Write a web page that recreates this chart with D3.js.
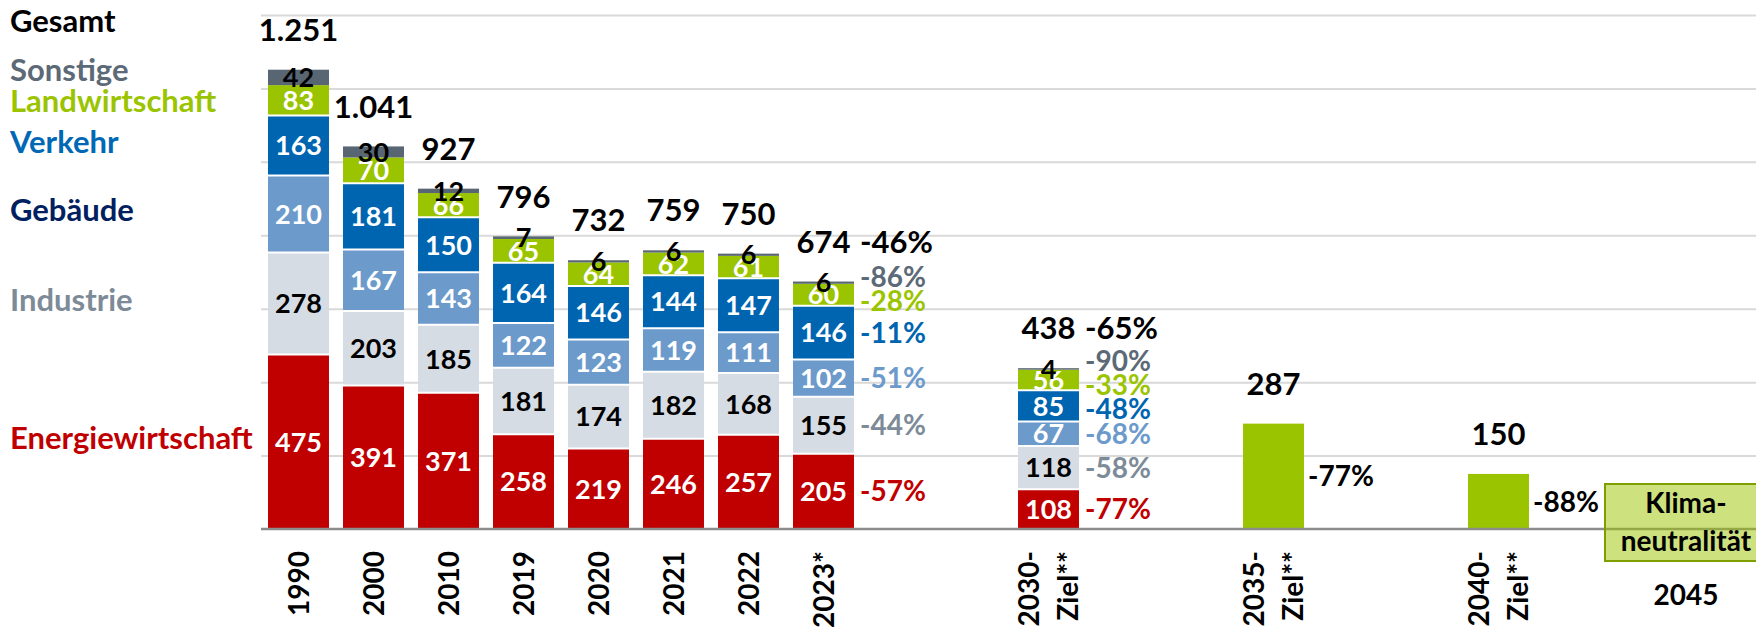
<!DOCTYPE html>
<html>
<head>
<meta charset="utf-8">
<script src="https://cdn.jsdelivr.net/npm/d3@7"></script>
<style>
	body { margin: 0; background: #fff; }
	svg text { font-family: Lato, "Open Sans", sans-serif; font-weight: 700; }
</style>
</head>
<body>
<div id="chart"></div>
<script>

// Treibhausgasemissionen nach Sektoren (Mio. t CO2-Äq.)
var sectors = ["Energiewirtschaft", "Industrie", "Gebäude", "Verkehr", "Landwirtschaft", "Sonstige"];
var years = ["1990", "2000", "2010", "2019", "2020", "2021", "2022", "2023*", "2030-Ziel**"];

var energie        = [475, 391, 371, 258, 219, 246, 257, 205, 108];
var industrie      = [278, 203, 185, 181, 174, 182, 168, 155, 118];
var gebaeude       = [210, 167, 143, 122, 123, 119, 111, 102, 67];
var verkehr        = [163, 181, 150, 164, 146, 144, 147, 146, 85];
var landwirtschaft = [83, 70, 66, 65, 64, 62, 61, 60, 56];
var sonstige       = [42, 30, 12, 7, 6, 6, 6, 6, 4];
var totals         = [1251, 1041, 927, 796, 732, 759, 750, 674, 438];

// Ziele ohne Sektoraufteilung
var targetYears  = ["2035-Ziel**", "2040-Ziel**"];
var targetValues = [287, 150];
var targetChange = ["-77%", "-88%"];

// Veränderung gegenüber 1990
var change2023  = ["-57%", "-44%", "-51%", "-11%", "-28%", "-86%"];
var change2030  = ["-77%", "-58%", "-68%", "-48%", "-33%", "-90%"];
var totalChange = ["-46%", "-65%"];

var yTicks = [200, 400, 600, 800, 1000, 1200, 1400];
var neutralYear = "2045";
var neutralText = ["Klima-", "neutralität"];

// colours
var fillColors  = ["#c00000", "#d6dce4", "#6c9acb", "#0065b0", "#9bc400", "#586572"];
var legendColors = ["#c00000", "#7d8b98", "#002060", "#0068b4", "#9bc400", "#5c6976"];
var valueColors = ["#fff", "#000", "#fff", "#fff", "#fff", "#000"];
var changeColors = ["#c00000", "#7d8b98", "#6c9acb", "#0065b0", "#9bc400", "#5c6976"];
var targetColor = "#9bc400";

var width = 1756, height = 631;

var svg = d3.select("#chart").append("svg")
	.attr("width", width)
	.attr("height", height);

// slots on the x axis, blanks keep the gaps between the target years
var slots = years.slice(0, 8).concat(["_a", "_b", years[8], "_c", "_d", targetYears[0], "_e", "_f", targetYears[1], "_g", neutralYear]);

var x = d3.scaleBand()
	.domain(slots)
	.range([261, 261 + slots.length * 75])
	.paddingInner(0.187)
	.paddingOuter(0.0935);

var y = d3.scaleLinear().domain([0, 1400]).range([529, 15]);

function cx(d) { return x(d) + x.bandwidth() / 2; }

//gridlines
var grid = svg.append("g")
	.attr("transform", "translate(261,0)")
	.call(d3.axisLeft(y).tickValues(yTicks).tickSize(-(width - 261)).tickFormat(""));
grid.select(".domain").remove();
grid.selectAll(".tick line").attr("stroke", "#d9d9d9").attr("stroke-width", 2);

var rows = years.map(function(yr, i) {
	return {
		year: yr,
		"Energiewirtschaft": energie[i],
		"Industrie": industrie[i],
		"Gebäude": gebaeude[i],
		"Verkehr": verkehr[i],
		"Landwirtschaft": landwirtschaft[i],
		"Sonstige": sonstige[i]
	};
});

var series = d3.stack().keys(sectors)(rows);

var layers = svg.selectAll(".layer")
	.data(series)
	.enter().append("g")
	.attr("class", "layer")
	.attr("fill", function(d, i) { return fillColors[i]; });

layers.selectAll("rect")
	.data(function(d) { return d; })
	.enter().append("rect")
	.attr("x", function(d) { return x(d.data.year); })
	.attr("width", x.bandwidth())
	.attr("y", function(d) { return y(d[1]); })
	.attr("height", function(d) { return y(d[0]) - y(d[1]); });

// white separators between segments
series.slice(1).forEach(function(s) {
	svg.selectAll(null)
		.data(s)
		.enter().append("line")
		.attr("x1", function(d) { return x(d.data.year); })
		.attr("x2", function(d) { return x(d.data.year) + x.bandwidth(); })
		.attr("y1", function(d) { return y(d[0]); })
		.attr("y2", function(d) { return y(d[0]); })
		.attr("stroke", s.key == "Sonstige" ? "none" : "#fff")
		.attr("stroke-width", 2);
});

// target bars
svg.selectAll(".target")
	.data(targetValues)
	.enter().append("rect")
	.attr("class", "target")
	.attr("x", function(d, i) { return x(targetYears[i]); })
	.attr("width", x.bandwidth())
	.attr("y", function(d) { return y(d); })
	.attr("height", function(d) { return y(0) - y(d); })
	.attr("fill", targetColor);

// baseline
svg.append("line")
	.attr("x1", 261).attr("x2", width)
	.attr("y1", y(0)).attr("y2", y(0))
	.attr("stroke", "#8c8c8c")
	.attr("stroke-width", 2.5);

// segment values
layers.each(function(s, si) {
	d3.select(this).selectAll("text")
		.data(s)
		.enter().append("text")
		.attr("x", function(d) { return cx(d.data.year); })
		.attr("y", function(d) { return (y(d[0]) + y(d[1])) / 2; })
		.attr("dy", "0.36em")
		.attr("text-anchor", "middle")
		.attr("font-size", 27)
		.attr("fill", valueColors[si])
		.text(function(d) { return d[1] - d[0]; });
});

var de = d3.formatLocale({ decimal: ",", thousands: ".", grouping: [3], currency: ["", " €"] });
var fmt = de.format(",d");

// totals
svg.selectAll(".total")
	.data(totals)
	.enter().append("text")
	.attr("class", "total")
	.attr("x", function(d, i) { return cx(years[i]); })
	.attr("y", function(d) { return y(d) - 29; })
	.attr("text-anchor", "middle")
	.attr("font-size", 31)
	.attr("fill", "#000")
	.text(function(d) { return fmt(d); });

svg.selectAll(".tlabel")
	.data(targetValues)
	.enter().append("text")
	.attr("x", function(d, i) { return cx(targetYears[i]); })
	.attr("y", function(d) { return y(d) - 29; })
	.attr("text-anchor", "middle")
	.attr("font-size", 31)
	.text(function(d) { return d; });

svg.selectAll(".tchange")
	.data(targetChange)
	.enter().append("text")
	.attr("x", function(d, i) { return x(targetYears[i]) + x.bandwidth() + 4; })
	.attr("y", function(d, i) { return (y(0) + y(targetValues[i])) / 2; })
	.attr("dy", "0.36em")
	.attr("font-size", 28)
	.text(function(d) { return d; });

// push labels apart so they do not overlap
function relax(items, gap) {
	for (var k = 0; k < 60; k++) {
		for (var i = 1; i < items.length; i++) {
			var dist = items[i - 1].y - items[i].y;
			if (dist < gap) {
				var m = (gap - dist) / 2;
				items[i - 1].y += m;
				items[i].y -= m;
			}
		}
	}
	return items;
}

// change labels next to 2023 and 2030
[["2023*", change2023, totalChange[0]], ["2030-Ziel**", change2030, totalChange[1]]].forEach(function(c) {
	var col = years.indexOf(c[0]);
	var items = series.map(function(s, si) {
		var d = s[col];
		return { y: (y(d[0]) + y(d[1])) / 2, text: c[1][si], color: changeColors[si] };
	});
	relax(items, 24);
	var x0 = x(c[0]) + x.bandwidth() + 6;
	svg.selectAll(null)
		.data(items)
		.enter().append("text")
		.attr("x", x0)
		.attr("y", function(d) { return d.y; })
		.attr("dy", "0.36em")
		.attr("font-size", 28)
		.attr("fill", function(d) { return d.color; })
		.text(function(d) { return d.text; });
	svg.append("text")
		.attr("x", x0)
		.attr("y", y(totals[col]) - 29)
		.attr("font-size", 31)
		.text(c[2]);
});

// legend on the left, aligned to the 1990 segments
var legendItems = series.map(function(s, si) {
	return { y: (y(s[0][0]) + y(s[0][1])) / 2 - 4, text: s.key, color: legendColors[si] };
});
relax(legendItems, 31);
legendItems.push({ y: 21, text: "Gesamt", color: "#000" });

svg.selectAll(".legend")
	.data(legendItems)
	.enter().append("text")
	.attr("class", "legend")
	.attr("x", 10)
	.attr("y", function(d) { return d.y; })
	.attr("dy", "0.36em")
	.attr("font-size", 31)
	.attr("fill", function(d) { return d.color; })
	.text(function(d) { return d.text; });

// x axis labels, rotated
var tickYears = years.concat(targetYears);
tickYears.forEach(function(t) {
	var lines = t.indexOf("-") > 0 ? [t.split("-")[0] + "-", t.split("-")[1]] : [t];
	var g = svg.append("g")
		.attr("transform", "translate(" + cx(t) + ",551) rotate(-90)");
	lines.forEach(function(l, li) {
		g.append("text")
			.attr("x", 0)
			.attr("y", (li - (lines.length - 1) / 2) * 39)
			.attr("dy", "0.36em")
			.attr("text-anchor", "end")
			.attr("font-size", 28)
			.text(l);
	});
});

// Klimaneutralität 2045 (sits half a slot to the right of its band)
var nx = cx(neutralYear) + x.step() / 2;
svg.append("rect")
	.attr("x", nx - x.step() * 1.08)
	.attr("y", y(0) - 45)
	.attr("width", x.step() * 2.16)
	.attr("height", 77)
	.attr("fill", targetColor)
	.attr("fill-opacity", 0.5)
	.attr("stroke", "#7f9f00")
	.attr("stroke-width", 2);

neutralText.forEach(function(l, li) {
	svg.append("text")
		.attr("x", nx)
		.attr("y", y(0) - 16 + li * 38)
		.attr("text-anchor", "middle")
		.attr("font-size", 28)
		.text(l);
});

svg.append("text")
	.attr("x", nx)
	.attr("y", 605)
	.attr("text-anchor", "middle")
	.attr("font-size", 28)
	.text(neutralYear);

</script>
</body>
</html>
